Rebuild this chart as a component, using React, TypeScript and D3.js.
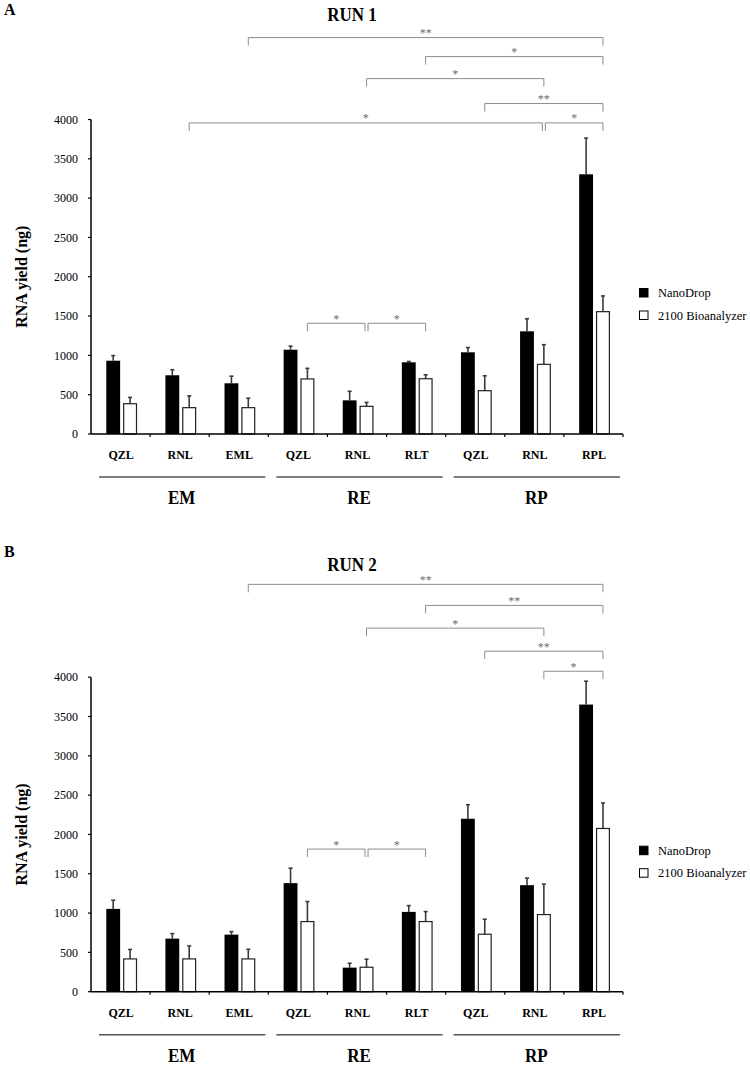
import React from "react";
import * as d3 from "d3";

// ---------- data ----------
const categories = ["QZL", "RNL", "EML", "QZL", "RNL", "RLT", "QZL", "RNL", "RPL"];
const groupNames = ["EM", "RE", "RP"];
const groupSizes = [3, 3, 3];
const seriesNames = ["NanoDrop", "2100 Bioanalyzer"];
const yTicks = [0, 500, 1000, 1500, 2000, 2500, 3000, 3500, 4000];

const run1Nano = [932, 747, 645, 1072, 428, 912, 1039, 1306, 3303];
const run1NanoErr = [65, 70, 90, 45, 115, 10, 60, 160, 460];
const run1Bio = [385, 335, 335, 700, 352, 703, 551, 886, 1556];
const run1BioErr = [80, 150, 120, 135, 50, 50, 190, 250, 200];

const run2Nano = [1053, 675, 726, 1381, 306, 1015, 2200, 1355, 3652];
const run2NanoErr = [110, 64, 38, 190, 56, 80, 178, 90, 297];
const run2Bio = [417, 417, 417, 892, 311, 892, 731, 981, 2076];
const run2BioErr = [120, 165, 123, 255, 102, 127, 191, 387, 324];

// [from category, to category, level (ng), label]
const run1Brackets: [number, number, number, string][] = [
  [2, 8, 5042, "**"],
  [5, 8, 4800, "*"],
  [4, 7, 4520, "*"],
  [6, 8, 4203, "**"],
  [1, 7, 3957, "*"],
  [7, 8, 3957, "*"],
  [3, 4, 1408, "*"],
  [4, 5, 1408, "*"],
];
const run2Brackets: [number, number, number, string][] = [
  [2, 8, 5181, "**"],
  [5, 8, 4913, "**"],
  [4, 7, 4624, "*"],
  [6, 8, 4331, "**"],
  [7, 8, 4076, "*"],
  [3, 4, 1814, "*"],
  [4, 5, 1814, "*"],
];

// ---------- layout ----------
const W = 750;
const H = 1065;
const SERIF = "'Liberation Serif', 'Times New Roman', Times, serif";
const X0 = 91;
const X1 = 623;
const PLOT_H = 314.5;

const panels = [
  {
    letter: "A", title: "RUN 1", zeroY: 434, titleY: 21.3, letterY: 15,
    nano: run1Nano, nanoErr: run1NanoErr, bio: run1Bio, bioErr: run1BioErr, brackets: run1Brackets,
  },
  {
    letter: "B", title: "RUN 2", zeroY: 991.7, titleY: 571, letterY: 557,
    nano: run2Nano, nanoErr: run2NanoErr, bio: run2Bio, bioErr: run2BioErr, brackets: run2Brackets,
  },
];

const xBand = d3.scaleBand<number>().domain(d3.range(categories.length)).range([X0, X1]).padding(0);
const sub = d3.scaleBand<string>().domain(["nano", "bio"]).range([15.3, 46]).paddingInner(0.18);

function Panel({ p }: { p: typeof panels[number] }) {
  const y = d3.scaleLinear().domain([0, 4000]).range([p.zeroY, p.zeroY - PLOT_H]);
  const bw = sub.bandwidth();
  const cx = (i: number, s: string) => (xBand(i) as number) + (sub(s) as number) + bw / 2;

  const groupStarts: number[] = [];
  let acc = 0;
  groupSizes.forEach((g) => { groupStarts.push(acc); acc += g; });

  const bars = (vals: number[], errs: number[], s: string) =>
    vals.map((v, i) => {
      const x = (xBand(i) as number) + (sub(s) as number);
      const c = x + bw / 2;
      const top = y(v);
      const et = y(v + errs[i]);
      return (
        <g key={s + i}>
          <line x1={c} x2={c} y1={top} y2={et} stroke="#3a3a3a" strokeWidth={1.6} />
          <line x1={c - 2} x2={c + 2} y1={et} y2={et} stroke="#3a3a3a" strokeWidth={1.6} />
          <rect
            x={s === "nano" ? x : x + 0.5}
            y={top}
            width={s === "nano" ? bw : bw - 1}
            height={p.zeroY - top}
            fill={s === "nano" ? "#000" : "#fff"}
            stroke={s === "nano" ? "none" : "#222"}
            strokeWidth={1.2}
          />
        </g>
      );
    });

  return (
    <g>
      <text x={4} y={p.letterY} fontFamily={SERIF} fontWeight="bold" fontSize={16}>{p.letter}</text>
      <text
        transform={`translate(352,${p.titleY}) scale(1,1.15)`}
        textAnchor="middle" fontFamily={SERIF} fontWeight="bold" fontSize={17}
      >{p.title}</text>

      {/* y axis title */}
      <text
        transform={`translate(27,${p.zeroY - PLOT_H / 2}) rotate(-90)`}
        textAnchor="middle" fontFamily={SERIF} fontWeight="bold" fontSize={16}
      >RNA yield (ng)</text>

      {/* y axis */}
      <line x1={X0} x2={X0} y1={y(4000)} y2={p.zeroY} stroke="#000" strokeWidth={1.5} />
      {yTicks.map((t) => (
        <g key={t}>
          <line x1={X0 - 3} x2={X0} y1={y(t)} y2={y(t)} stroke="#000" strokeWidth={1.2} />
          <text x={78} y={y(t)} dy="0.35em" textAnchor="end" fontFamily={SERIF} fontSize={12}>{t}</text>
        </g>
      ))}

      {/* bars */}
      {bars(p.nano, p.nanoErr, "nano")}
      {bars(p.bio, p.bioErr, "bio")}

      {/* x axis */}
      <line x1={X0} x2={X1} y1={p.zeroY} y2={p.zeroY} stroke="#000" strokeWidth={1.5} />
      {d3.range(1, categories.length + 1).map((i) => {
        const xx = i < categories.length ? (xBand(i) as number) : X1;
        return <line key={i} x1={xx} x2={xx} y1={p.zeroY} y2={p.zeroY + 3} stroke="#000" strokeWidth={1.2} />;
      })}
      {categories.map((c, i) => (
        <text key={i} x={(xBand(i) as number) + xBand.bandwidth() / 2 + 0.5} y={p.zeroY + 25}
          textAnchor="middle" fontFamily={SERIF} fontWeight="bold" fontSize={12}>{c}</text>
      ))}

      {/* groups */}
      {groupNames.map((g, gi) => {
        const s = groupStarts[gi];
        const xa = xBand(s) as number;
        const xb = (xBand(s + groupSizes[gi] - 1) as number) + xBand.bandwidth();
        return (
          <g key={g}>
            <line x1={xa + 8} x2={xb - 3} y1={p.zeroY + 43} y2={p.zeroY + 43} stroke="#555" strokeWidth={1.6} />
            <text transform={`translate(${(xa + xb) / 2 + 2},${p.zeroY + 70}) scale(1,1.1)`}
              textAnchor="middle" fontFamily={SERIF} fontWeight="bold" fontSize={17}>{g}</text>
          </g>
        );
      })}

      {/* significance brackets */}
      {p.brackets.map(([a, b, lvl, lab], k) => {
        const shareR = p.brackets.some((o) => o !== p.brackets[k] && o[2] === lvl && o[0] === b);
        const shareL = p.brackets.some((o) => o !== p.brackets[k] && o[2] === lvl && o[1] === a);
        const xa = cx(a, "bio") + (shareL ? 1.5 : 0);
        const xb = cx(b, "bio") - (shareR ? 1.5 : 0);
        const yy = y(lvl);
        return (
          <g key={k}>
            <path d={`M${xa},${yy + 8}V${yy}H${xb}V${yy + 8}`} fill="none" stroke="#8c8c8c" strokeWidth={1} />
            <g opacity={0.6}>
              <text x={(xa + xb) / 2} y={yy - 0.5} textAnchor="middle" fontFamily={SERIF} fontSize={12} fill="#000">{lab}</text>
            </g>
          </g>
        );
      })}

      {/* legend */}
      {seriesNames.map((n, i) => {
        const ly = p.zeroY - 141 + i * 22.5;
        return (
          <g key={n}>
            <rect x={639.5} y={ly - 4.5} width={8.5} height={8.5}
              fill={i === 0 ? "#000" : "#fff"} stroke="#000" strokeWidth={1} />
            <text x={658} y={ly} dy="0.33em" fontFamily={SERIF} fontSize={12.5}>{n}</text>
          </g>
        );
      })}
    </g>
  );
}

export default function App() {
  return (
    <svg width={W} height={H} style={{ position: "absolute", left: 0, top: 0, background: "#fff" }}>
      <rect width={W} height={H} fill="#fff" />
      {panels.map((p) => <Panel key={p.letter} p={p} />)}
    </svg>
  );
}
